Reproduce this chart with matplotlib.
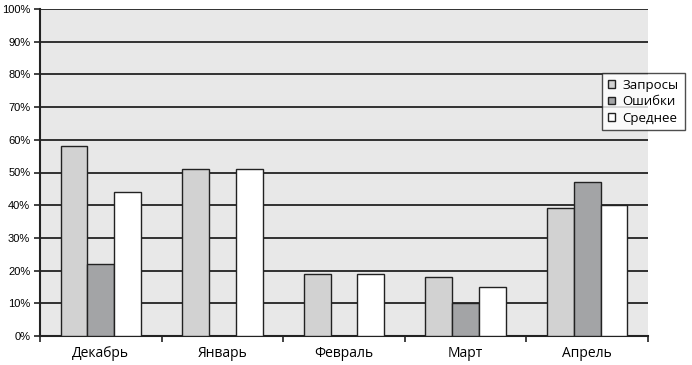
import matplotlib
matplotlib.use("Agg")
import matplotlib.pyplot as plt
import numpy as np
from matplotlib.patches import Patch
from matplotlib.ticker import PercentFormatter

months = ["Декабрь", "Январь", "Февраль", "Март", "Апрель"]
series_names = ["Запросы", "Ошибки", "Среднее"]
requests = [58, 51, 19, 18, 39]
errors = [22, 0, 0, 10, 47]
average = [44, 51, 19, 15, 40]
colors = ["#d2d2d2", "#a3a4a6", "#ffffff"]

plt.rcParams["font.family"] = ["Open Sans", "DejaVu Sans"]

fig = plt.figure(figsize=(6.92, 3.65), dpi=100)
ax = fig.add_axes([40 / 692, 29 / 365, 608 / 692, 327 / 365])
ax.set_facecolor("#e8e8e8")

x = np.arange(len(months))
width = 0.22
for i, (vals, col) in enumerate(zip([requests, errors, average], colors)):
    ax.bar(x + (i - 1) * width, vals, width, color=col, edgecolor="#222222",
           linewidth=1.0, zorder=3)

ax.set_xlim(-0.5, len(months) - 0.5)
ax.set_ylim(0, 100)
ax.set_yticks(range(0, 101, 10))
ax.yaxis.set_major_formatter(PercentFormatter(decimals=0))
ax.grid(axis="y", color="#222222", linewidth=1.3, zorder=0)
ax.set_axisbelow(True)

ax.set_xticks(x)
ax.set_xticklabels(months, fontsize=10)
ax.set_xticks(np.arange(-0.5, len(months)), minor=True)
ax.tick_params(axis="x", which="major", length=0, pad=7)
ax.tick_params(axis="x", which="minor", length=4, width=1.2, color="#222222")
ax.tick_params(axis="y", length=4, width=1.2, color="#222222", labelsize=8,
               pad=3)
for lab in ax.get_yticklabels():
    lab.set_family(["Liberation Sans", "DejaVu Sans"])

for side in ["top", "right"]:
    ax.spines[side].set_visible(False)
for side in ["left", "bottom"]:
    ax.spines[side].set_color("#222222")
    ax.spines[side].set_linewidth(1.5)

handles = [Patch(facecolor=c, edgecolor="#222222", linewidth=1.0) for c in colors]
leg = fig.legend(handles, series_names, loc="upper left",
                 bbox_to_anchor=(602 / 692, 1 - 73 / 365), fontsize=9.5,
                 frameon=True, fancybox=False, handlelength=0.5,
                 handleheight=0.5, handletextpad=0.6, borderpad=0.45,
                 labelspacing=0.25, borderaxespad=0)
leg.get_frame().set_edgecolor("#222222")
leg.get_frame().set_linewidth(1.0)

fig.savefig("out.png", dpi=100)
